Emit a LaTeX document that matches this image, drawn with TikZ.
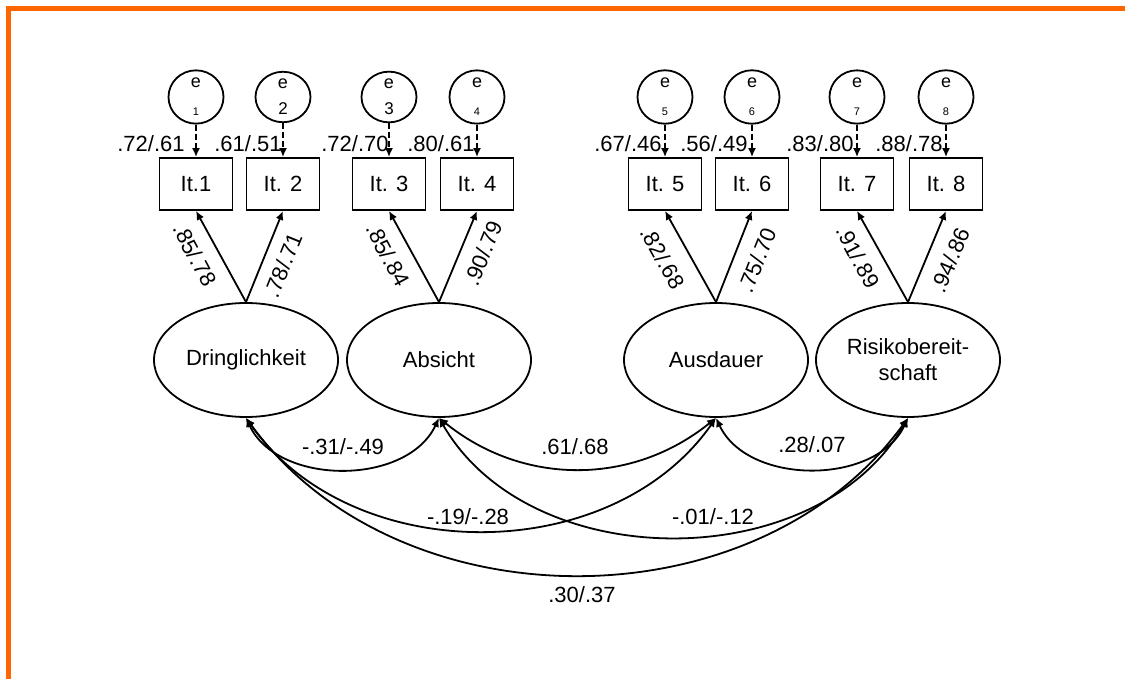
\documentclass[tikz,border=0pt]{standalone}
\usepackage{fontspec}
\setmainfont{Liberation Sans}
\usetikzlibrary{shapes.geometric,arrows.meta}
\definecolor{frameorange}{RGB}{255,102,0}

\begin{document}
\begin{tikzpicture}[x=0.5pt,y=0.5pt,line width=0.9pt,
  errc/.style={draw,ellipse,minimum width=27.5pt,minimum height=24pt,inner sep=0pt,align=center,font=\fontsize{9}{14}\selectfont},
  itembox/.style={draw,rectangle,minimum width=36.5pt,minimum height=26pt,inner sep=0pt,font=\fontsize{11}{13}\selectfont},
  fac/.style={draw,ellipse,minimum width=92pt,minimum height=57pt,inner sep=0pt,align=center,font=\fontsize{11}{13}\selectfont},
  lab/.style={inner sep=0pt,font=\fontsize{11}{13}\selectfont},
  tip/.style={>={Latex[length=4.5pt,width=4pt]}},
  errarrow/.style={->,tip,dash pattern=on 3pt off 1.5pt}]
\useasboundingbox (0,0) rectangle (1125,-679);
% orange frame
\fill[frameorange] (6,-6) rectangle (1125,-11);
\fill[frameorange] (6,-6) rectangle (11,-679);
% error terms
\node[errc] (e1)at(196,-97){e\\{\fontsize{5.5}{6}\selectfont 1}};
\node[errc] (e2)at(283,-97){e\\[-1pt]{\fontsize{8.5}{9}\selectfont 2}};
\node[errc] (e3)at(389,-97){e\\[-1pt]{\fontsize{8.5}{9}\selectfont 3}};
\node[errc] (e4)at(477,-97){e\\{\fontsize{5.5}{6}\selectfont 4}};
\node[errc] (e5)at(665,-97){e\\{\fontsize{5.5}{6}\selectfont 5}};
\node[errc] (e6)at(752,-97){e\\{\fontsize{5.5}{6}\selectfont 6}};
\node[errc] (e7)at(857,-97){e\\{\fontsize{5.5}{6}\selectfont 7}};
\node[errc] (e8)at(946,-97){e\\{\fontsize{5.5}{6}\selectfont 8}};
% items
\node[itembox] (i1)at(196,-184){It.1};
\node[itembox] (i2)at(283,-184){It. 2};
\node[itembox] (i3)at(389,-184){It. 3};
\node[itembox] (i4)at(477,-184){It. 4};
\node[itembox] (i5)at(665,-184){It. 5};
\node[itembox] (i6)at(752,-184){It. 6};
\node[itembox] (i7)at(857,-184){It. 7};
\node[itembox] (i8)at(946,-184){It. 8};
% factors
\node[fac] (f1)at(246,-360){Dringlichkeit};
\node[fac] (f2)at(439,-360){Absicht};
\node[fac] (f3)at(716,-360){Ausdauer};
\node[fac] (f4)at(908,-360){Risikobereit-\\schaft};
% error paths
\draw[errarrow] (e1) to (i1);
\draw[errarrow] (e2) to (i2);
\draw[errarrow] (e3) to (i3);
\draw[errarrow] (e4) to (i4);
\draw[errarrow] (e5) to (i5);
\draw[errarrow] (e6) to (i6);
\draw[errarrow] (e7) to (i7);
\draw[errarrow] (e8) to (i8);
% loadings
\draw[->,tip] (f1.north) to (i1.south);
\draw[->,tip] (f1.north) to (i2.south);
\draw[->,tip] (f2.north) to (i3.south);
\draw[->,tip] (f2.north) to (i4.south);
\draw[->,tip] (f3.north) to (i5.south);
\draw[->,tip] (f3.north) to (i6.south);
\draw[->,tip] (f4.north) to (i7.south);
\draw[->,tip] (f4.north) to (i8.south);
% covariances
\draw[<->,tip] (f1.south) to[out=-65,in=-115] (f2.south);
\draw[<->,tip] (f2.south) to[out=-39,in=-141] (f3.south);
\draw[<->,tip] (f3.south) to[out=-65,in=-115] (f4.south);
\draw[<->,tip] (f1.south) to[out=-55,in=-125] (f3.south);
\draw[<->,tip] (f2.south) to[out=-60,in=-120] (f4.south);
\draw[<->,tip] (f1.south) to[out=-54,in=-126] (f4.south);
% values
\node[lab] (r1)at(151,-144){.72/.61};
\node[lab] (r2)at(248,-144){.61/.51};
\node[lab] (r3)at(355,-144){.72/.70};
\node[lab] (r4)at(441,-144){.80/.61};
\node[lab] (r5)at(628,-144){.67/.46};
\node[lab] (r6)at(714,-144){.56/.49};
\node[lab] (r7)at(820,-144){.83/.80};
\node[lab] (r8)at(909,-144){.88/.78};
\node[lab,rotate=-62] (l1)at(195,-255){.85/.78};
\node[lab,rotate=68] (l2)at(283,-265){.78/.71};
\node[lab,rotate=-62] (l3)at(388,-255){.85/.84};
\node[lab,rotate=68] (l4)at(483,-253){.90/.79};
\node[lab,rotate=-61] (l5)at(663,-258){.82/.68};
\node[lab,rotate=68] (l6)at(757,-260){.75/.70};
\node[lab,rotate=-62] (l7)at(858,-257){.91/.89};
\node[lab,rotate=67] (l8)at(950,-260){.94/.86};
\node[lab] (c12)at(343,-447){-.31/-.49};
\node[lab] (c23)at(575,-447){.61/.68};
\node[lab] (c34)at(812,-445){.28/.07};
\node[lab] (c13)at(468,-517){-.19/-.28};
\node[lab] (c24)at(713,-517){-.01/-.12};
\node[lab] (c14)at(582,-595){.30/.37};
\end{tikzpicture}
\end{document}
